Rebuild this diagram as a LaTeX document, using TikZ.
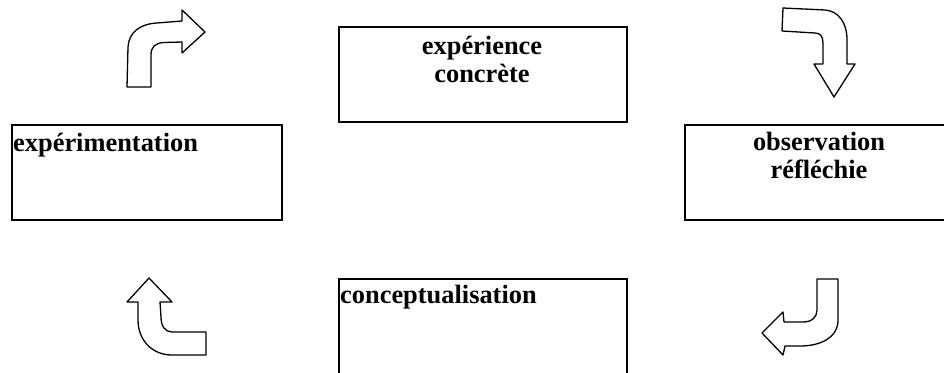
\documentclass[tikz,border=0pt]{standalone}
\usepackage{fontspec}
\setmainfont{Liberation Serif}
\begin{document}
\begin{tikzpicture}[x=1pt,y=-1pt,
  box/.style={draw=black,line width=1.6pt,rectangle,inner sep=0pt},
  lbl/.style={font=\fontsize{26.4}{28}\selectfont\bfseries,inner sep=0pt},
  bentarrow/.style={draw=black,line width=1.3pt,line join=round,fill=white}]
\useasboundingbox (0,0) rectangle (944,372);
% boxes
\node[box,minimum width=288pt,minimum height=95pt] (exp) at (483,74.5) {};
\node[box,minimum width=270pt,minimum height=95pt] (expm) at (147,172.5) {};
\node[box,minimum width=270pt,minimum height=95pt] (obs) at (820,172.5) {};
\node[box,minimum width=288pt,minimum height=95pt] (conc) at (483,326.5) {};
% labels
\node[lbl,anchor=base] (expA) at (482,54) {expérience};
\node[lbl,anchor=base] (expB) at (482,82) {concrète};
\node[lbl,anchor=base west] (expmA) at (13,151) {expérimentation};
\node[lbl,anchor=base] (obsA) at (819,150) {observation};
\node[lbl,anchor=base] (obsB) at (819,178) {réfléchie};
\node[lbl,anchor=base west] (concA) at (340,303) {conceptualisation};
% bent arrows
\draw[bentarrow] (127,87) -- (128,47) .. controls (129,32) and (140,24) .. (157,23) -- (182,21)
  -- (182,10) -- (205,32) -- (182,53) -- (182,42) -- (164,42.5)
  .. controls (155,43) and (151,47) .. (151,55) -- (151,87) -- cycle;
\draw[bentarrow] (783,8) -- (825,10) .. controls (838,11) and (847,22) .. (847,40) -- (847,64)
  -- (855,64) -- (834,97) -- (814,64) -- (823,64) -- (823,43)
  .. controls (823,36) and (820,33) .. (815,33) -- (782,31) -- cycle;
\draw[bentarrow] (149,278) -- (127,302) -- (138,302) -- (138,320)
  .. controls (138,340) and (152,355) .. (172,355) -- (206,355) -- (206,332) -- (172,332)
  .. controls (165,332) and (161,326) .. (161,317) -- (160,302) -- (172,302) -- cycle;
\draw[bentarrow] (817,279) -- (838,279) -- (838,320) .. controls (838,338) and (820,346) .. (800,346)
  -- (785,346) -- (783,355) -- (762,333) -- (783,312) -- (784,322) -- (803,322)
  .. controls (812,322) and (817,317) .. (817,310) -- cycle;
\end{tikzpicture}
\end{document}
